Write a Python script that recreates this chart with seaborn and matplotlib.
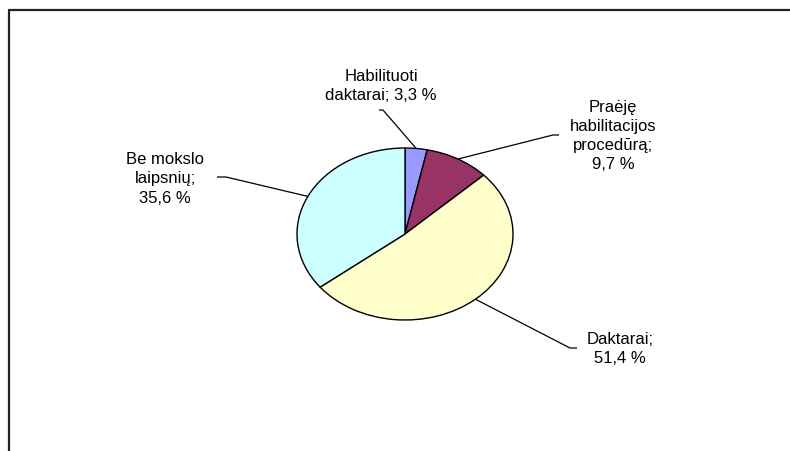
import numpy as np
import matplotlib
matplotlib.use("Agg")
import matplotlib.pyplot as plt
from matplotlib.lines import Line2D
import seaborn as sns

# ---- data ----
categories = ["Habilituoti\ndaktarai; 3,3 %",
              "Praėję\nhabilitacijos\nprocedūrą;\n9,7 %",
              "Daktarai;\n51,4 %",
              "Be mokslo\nlaipsnių;\n35,6 %"]
values = [3.3, 9.7, 51.4, 35.6]
colors = ["#9999FF", "#993366", "#FFFFCC", "#CCFFFF"]

# ---- style ----
sns.set_theme(style="white")
plt.rcParams['font.family'] = ['Liberation Sans', 'DejaVu Sans']

W, H = 790, 452
fig = plt.figure(figsize=(W / 100, H / 100), dpi=100)
fig.patch.set_facecolor("white")
ax = fig.add_axes([0, 0, 1, 1])

# pie geometry in pixels (layout)
CX, CY, RX, RY = 405, 235, 108, 86

def to_data(x, y):
    return (x - CX) / RX, (CY - y) / RY

wedges, _ = ax.pie(values, colors=colors, startangle=90, counterclock=False,
                   radius=1, center=(0, 0),
                   wedgeprops=dict(edgecolor="black", linewidth=1.0))
ax.set_aspect("auto")
ax.set_xlim(-CX / RX, (W - CX) / RX)
ax.set_ylim(-(H - CY) / RY, CY / RY)
ax.axis("off")

# label layout (pixel positions): text center, leader elbow, leader end
label_pos = [(381, 86), (613, 136), (620, 349), (165, 179)]
leader_pts = [[(383, 111), (379, 111)],
              [(553, 136), (559, 136)],
              [(570, 349), (577, 349)],
              [(226, 178), (217, 178)]]

for w, lab, (tx, ty), pts in zip(wedges, categories, label_pos, leader_pts):
    mid = np.deg2rad((w.theta1 + w.theta2) / 2)
    x0, y0 = np.cos(mid), np.sin(mid)
    xs = [x0] + [to_data(*p)[0] for p in pts]
    ys = [y0] + [to_data(*p)[1] for p in pts]
    ax.plot(xs, ys, color="black", linewidth=0.9, solid_capstyle="butt")
    dx, dy = to_data(tx, ty)
    ax.text(dx, dy, lab, ha="center", va="center", fontsize=12,
            linespacing=1.34, color="black")

# chart frame (partially visible)
fig.add_artist(Line2D([8.5 / W, 1.0], [1 - 10.5 / H, 1 - 10.5 / H],
                      transform=fig.transFigure, color="#222222", linewidth=1.6))
fig.add_artist(Line2D([8.5 / W, 8.5 / W], [0.0, 1 - 10.5 / H],
                      transform=fig.transFigure, color="#222222", linewidth=1.6))

fig.savefig("out.png", dpi=100, facecolor="white")
